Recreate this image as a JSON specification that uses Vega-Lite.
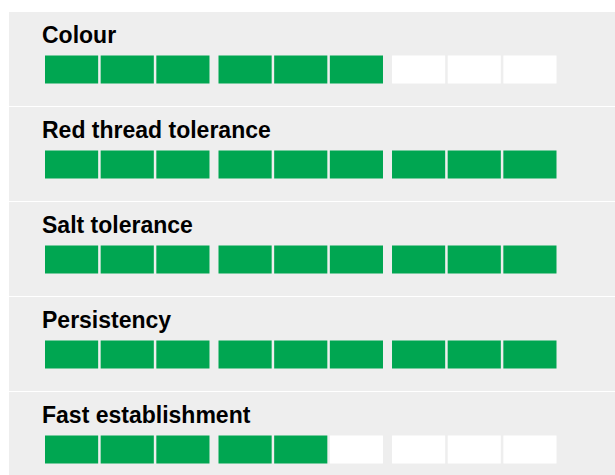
{
  "$schema": "https://vega.github.io/schema/vega-lite/v6.json",
  "background": "#ffffff",
  "padding": {"left": 9, "top": 12, "right": 0, "bottom": 0},
  "spacing": 1,
  "datasets": {
    "cells": [
      {"trait": "Colour", "group": 1, "cell": 1, "filled": "yes"},
      {"trait": "Colour", "group": 1, "cell": 2, "filled": "yes"},
      {"trait": "Colour", "group": 1, "cell": 3, "filled": "yes"},
      {"trait": "Colour", "group": 2, "cell": 1, "filled": "yes"},
      {"trait": "Colour", "group": 2, "cell": 2, "filled": "yes"},
      {"trait": "Colour", "group": 2, "cell": 3, "filled": "yes"},
      {"trait": "Colour", "group": 3, "cell": 1, "filled": "no"},
      {"trait": "Colour", "group": 3, "cell": 2, "filled": "no"},
      {"trait": "Colour", "group": 3, "cell": 3, "filled": "no"},
      {"trait": "Red thread tolerance", "group": 1, "cell": 1, "filled": "yes"},
      {"trait": "Red thread tolerance", "group": 1, "cell": 2, "filled": "yes"},
      {"trait": "Red thread tolerance", "group": 1, "cell": 3, "filled": "yes"},
      {"trait": "Red thread tolerance", "group": 2, "cell": 1, "filled": "yes"},
      {"trait": "Red thread tolerance", "group": 2, "cell": 2, "filled": "yes"},
      {"trait": "Red thread tolerance", "group": 2, "cell": 3, "filled": "yes"},
      {"trait": "Red thread tolerance", "group": 3, "cell": 1, "filled": "yes"},
      {"trait": "Red thread tolerance", "group": 3, "cell": 2, "filled": "yes"},
      {"trait": "Red thread tolerance", "group": 3, "cell": 3, "filled": "yes"},
      {"trait": "Salt tolerance", "group": 1, "cell": 1, "filled": "yes"},
      {"trait": "Salt tolerance", "group": 1, "cell": 2, "filled": "yes"},
      {"trait": "Salt tolerance", "group": 1, "cell": 3, "filled": "yes"},
      {"trait": "Salt tolerance", "group": 2, "cell": 1, "filled": "yes"},
      {"trait": "Salt tolerance", "group": 2, "cell": 2, "filled": "yes"},
      {"trait": "Salt tolerance", "group": 2, "cell": 3, "filled": "yes"},
      {"trait": "Salt tolerance", "group": 3, "cell": 1, "filled": "yes"},
      {"trait": "Salt tolerance", "group": 3, "cell": 2, "filled": "yes"},
      {"trait": "Salt tolerance", "group": 3, "cell": 3, "filled": "yes"},
      {"trait": "Persistency", "group": 1, "cell": 1, "filled": "yes"},
      {"trait": "Persistency", "group": 1, "cell": 2, "filled": "yes"},
      {"trait": "Persistency", "group": 1, "cell": 3, "filled": "yes"},
      {"trait": "Persistency", "group": 2, "cell": 1, "filled": "yes"},
      {"trait": "Persistency", "group": 2, "cell": 2, "filled": "yes"},
      {"trait": "Persistency", "group": 2, "cell": 3, "filled": "yes"},
      {"trait": "Persistency", "group": 3, "cell": 1, "filled": "yes"},
      {"trait": "Persistency", "group": 3, "cell": 2, "filled": "yes"},
      {"trait": "Persistency", "group": 3, "cell": 3, "filled": "yes"},
      {"trait": "Fast establishment", "group": 1, "cell": 1, "filled": "yes"},
      {"trait": "Fast establishment", "group": 1, "cell": 2, "filled": "yes"},
      {"trait": "Fast establishment", "group": 1, "cell": 3, "filled": "yes"},
      {"trait": "Fast establishment", "group": 2, "cell": 1, "filled": "yes"},
      {"trait": "Fast establishment", "group": 2, "cell": 2, "filled": "yes"},
      {"trait": "Fast establishment", "group": 2, "cell": 3, "filled": "no"},
      {"trait": "Fast establishment", "group": 3, "cell": 1, "filled": "no"},
      {"trait": "Fast establishment", "group": 3, "cell": 2, "filled": "no"},
      {"trait": "Fast establishment", "group": 3, "cell": 3, "filled": "no"}
    ]
  },
  "data": {"name": "cells"},
  "resolve": {"scale": {"y": "independent", "x": "shared", "xOffset": "shared", "color": "shared"}},
  "vconcat": [
    {
      "width": 606, "height": 94,
      "transform": [{"filter": {"field": "trait", "equal": "Colour"}}],
      "layer": [
        {
          "mark": {"type": "rect"},
          "encoding": {
            "x": {"field": "group", "type": "ordinal", "scale": {"type": "band", "range": [36, 547.5], "paddingInner": 0.052, "paddingOuter": 0}, "axis": null},
            "xOffset": {"field": "cell", "type": "ordinal", "scale": {"type": "band", "paddingInner": 0.045, "paddingOuter": 0}},
            "y": {"field": "trait", "type": "nominal", "scale": {"type": "band", "range": [43.5, 71.5], "paddingInner": 0, "paddingOuter": 0}, "axis": null},
            "color": {"field": "filled", "type": "nominal", "scale": {"domain": ["yes", "no"], "range": ["#00a651", "#ffffff"]}, "legend": null}
          }
        },
        {
          "transform": [{"filter": "datum.group === 1 && datum.cell === 1"}],
          "mark": {"type": "text", "align": "left", "baseline": "alphabetic", "font": "Liberation Sans", "fontWeight": "bold", "fontSize": 23, "color": "#000000", "dx": -3, "dy": -12.2},
          "encoding": {
            "x": {"field": "group", "type": "ordinal", "bandPosition": 0},
            "y": {"field": "trait", "type": "nominal", "bandPosition": 0},
            "text": {"field": "trait"}
          }
        }
      ]
    },
    {
      "width": 606, "height": 94,
      "transform": [{"filter": {"field": "trait", "equal": "Red thread tolerance"}}],
      "layer": [
        {
          "mark": {"type": "rect"},
          "encoding": {
            "x": {"field": "group", "type": "ordinal", "scale": {"type": "band", "range": [36, 547.5], "paddingInner": 0.052, "paddingOuter": 0}, "axis": null},
            "xOffset": {"field": "cell", "type": "ordinal", "scale": {"type": "band", "paddingInner": 0.045, "paddingOuter": 0}},
            "y": {"field": "trait", "type": "nominal", "scale": {"type": "band", "range": [43.5, 71.5], "paddingInner": 0, "paddingOuter": 0}, "axis": null},
            "color": {"field": "filled", "type": "nominal", "scale": {"domain": ["yes", "no"], "range": ["#00a651", "#ffffff"]}, "legend": null}
          }
        },
        {
          "transform": [{"filter": "datum.group === 1 && datum.cell === 1"}],
          "mark": {"type": "text", "align": "left", "baseline": "alphabetic", "font": "Liberation Sans", "fontWeight": "bold", "fontSize": 23, "color": "#000000", "dx": -3, "dy": -12.2},
          "encoding": {
            "x": {"field": "group", "type": "ordinal", "bandPosition": 0},
            "y": {"field": "trait", "type": "nominal", "bandPosition": 0},
            "text": {"field": "trait"}
          }
        }
      ]
    },
    {
      "width": 606, "height": 94,
      "transform": [{"filter": {"field": "trait", "equal": "Salt tolerance"}}],
      "layer": [
        {
          "mark": {"type": "rect"},
          "encoding": {
            "x": {"field": "group", "type": "ordinal", "scale": {"type": "band", "range": [36, 547.5], "paddingInner": 0.052, "paddingOuter": 0}, "axis": null},
            "xOffset": {"field": "cell", "type": "ordinal", "scale": {"type": "band", "paddingInner": 0.045, "paddingOuter": 0}},
            "y": {"field": "trait", "type": "nominal", "scale": {"type": "band", "range": [43.5, 71.5], "paddingInner": 0, "paddingOuter": 0}, "axis": null},
            "color": {"field": "filled", "type": "nominal", "scale": {"domain": ["yes", "no"], "range": ["#00a651", "#ffffff"]}, "legend": null}
          }
        },
        {
          "transform": [{"filter": "datum.group === 1 && datum.cell === 1"}],
          "mark": {"type": "text", "align": "left", "baseline": "alphabetic", "font": "Liberation Sans", "fontWeight": "bold", "fontSize": 23, "color": "#000000", "dx": -3, "dy": -12.2},
          "encoding": {
            "x": {"field": "group", "type": "ordinal", "bandPosition": 0},
            "y": {"field": "trait", "type": "nominal", "bandPosition": 0},
            "text": {"field": "trait"}
          }
        }
      ]
    },
    {
      "width": 606, "height": 94,
      "transform": [{"filter": {"field": "trait", "equal": "Persistency"}}],
      "layer": [
        {
          "mark": {"type": "rect"},
          "encoding": {
            "x": {"field": "group", "type": "ordinal", "scale": {"type": "band", "range": [36, 547.5], "paddingInner": 0.052, "paddingOuter": 0}, "axis": null},
            "xOffset": {"field": "cell", "type": "ordinal", "scale": {"type": "band", "paddingInner": 0.045, "paddingOuter": 0}},
            "y": {"field": "trait", "type": "nominal", "scale": {"type": "band", "range": [43.5, 71.5], "paddingInner": 0, "paddingOuter": 0}, "axis": null},
            "color": {"field": "filled", "type": "nominal", "scale": {"domain": ["yes", "no"], "range": ["#00a651", "#ffffff"]}, "legend": null}
          }
        },
        {
          "transform": [{"filter": "datum.group === 1 && datum.cell === 1"}],
          "mark": {"type": "text", "align": "left", "baseline": "alphabetic", "font": "Liberation Sans", "fontWeight": "bold", "fontSize": 23, "color": "#000000", "dx": -3, "dy": -12.2},
          "encoding": {
            "x": {"field": "group", "type": "ordinal", "bandPosition": 0},
            "y": {"field": "trait", "type": "nominal", "bandPosition": 0},
            "text": {"field": "trait"}
          }
        }
      ]
    },
    {
      "width": 606, "height": 83,
      "transform": [{"filter": {"field": "trait", "equal": "Fast establishment"}}],
      "layer": [
        {
          "mark": {"type": "rect"},
          "encoding": {
            "x": {"field": "group", "type": "ordinal", "scale": {"type": "band", "range": [36, 547.5], "paddingInner": 0.052, "paddingOuter": 0}, "axis": null},
            "xOffset": {"field": "cell", "type": "ordinal", "scale": {"type": "band", "paddingInner": 0.045, "paddingOuter": 0}},
            "y": {"field": "trait", "type": "nominal", "scale": {"type": "band", "range": [43.5, 71.5], "paddingInner": 0, "paddingOuter": 0}, "axis": null},
            "color": {"field": "filled", "type": "nominal", "scale": {"domain": ["yes", "no"], "range": ["#00a651", "#ffffff"]}, "legend": null}
          }
        },
        {
          "transform": [{"filter": "datum.group === 1 && datum.cell === 1"}],
          "mark": {"type": "text", "align": "left", "baseline": "alphabetic", "font": "Liberation Sans", "fontWeight": "bold", "fontSize": 23, "color": "#000000", "dx": -3, "dy": -12.2},
          "encoding": {
            "x": {"field": "group", "type": "ordinal", "bandPosition": 0},
            "y": {"field": "trait", "type": "nominal", "bandPosition": 0},
            "text": {"field": "trait"}
          }
        }
      ]
    }
  ],
  "config": {
    "view": {"fill": "#eeeeee", "stroke": null},
    "concat": {"spacing": 1}
  }
}
